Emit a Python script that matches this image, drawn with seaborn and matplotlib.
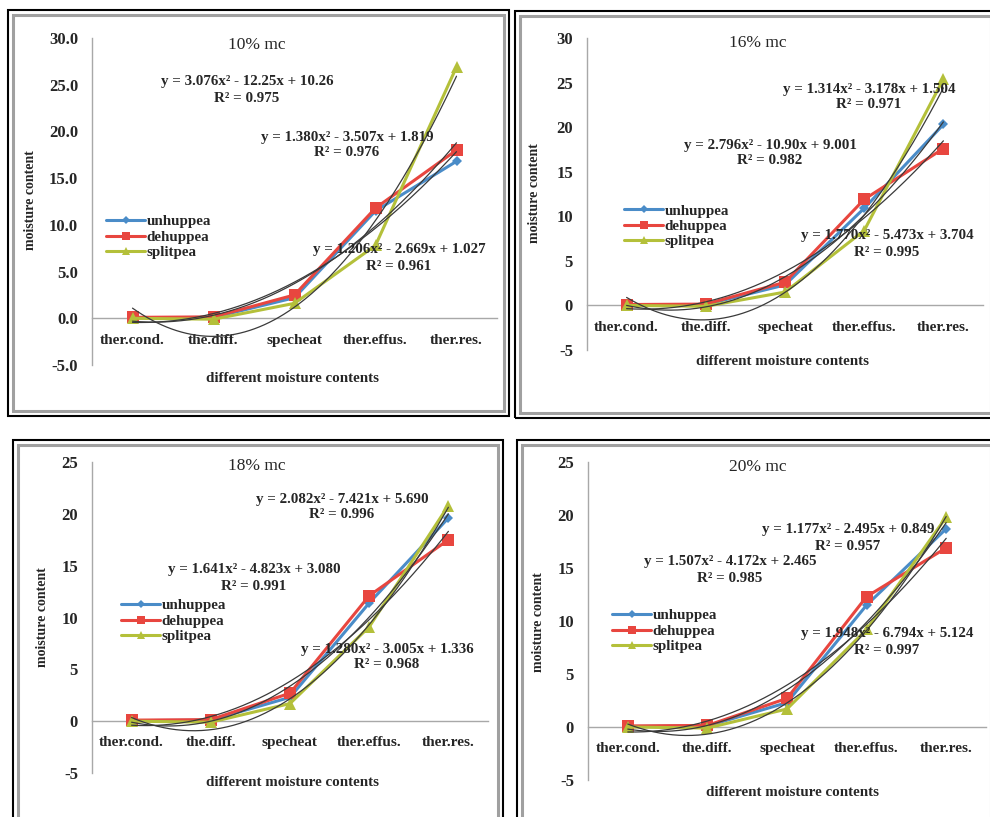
import numpy as np
import pandas as pd
import matplotlib
matplotlib.use("Agg")
import matplotlib.pyplot as plt
from matplotlib.patches import Rectangle
from matplotlib.ticker import FormatStrFormatter, FixedLocator, NullFormatter
import seaborn as sns

# ---------------- data ----------------
categories = ["ther.cond.", "the.diff.", "specheat", "ther.effus.", "ther.res."]
varieties = ["unhuppea", "dehuppea", "splitpea"]
panel_titles = ["10% mc", "16% mc", "18% mc", "20% mc"]

unhuppea = [
    [0.05, 0.1, 2.2, 11.5, 16.8],
    [0.05, 0.1, 2.3, 10.9, 20.3],
    [0.05, 0.1, 2.3, 11.4, 19.6],
    [0.05, 0.1, 2.3, 11.5, 18.7],
]
dehuppea = [
    [0.1, 0.15, 2.5, 11.8, 18.0],
    [0.1, 0.15, 2.6, 11.9, 17.6],
    [0.1, 0.15, 2.7, 12.1, 17.5],
    [0.1, 0.15, 2.7, 12.3, 16.9],
]
splitpea = [
    [0.0, -0.1, 1.6, 7.8, 26.9],
    [0.0, -0.1, 1.5, 8.4, 25.4],
    [0.0, -0.1, 1.7, 9.1, 20.8],
    [0.0, -0.1, 1.7, 9.2, 19.8],
]

# quadratic trend lines per panel: (a, b, c, R²) for y = a x² - b x + c
trend_fits = [
    [("3.076", "12.25", "10.26", "0.975"),
     ("1.380", "3.507", "1.819", "0.976"),
     ("1.206", "2.669", "1.027", "0.961")],
    [("1.314", "3.178", "1.504", "0.971"),
     ("2.796", "10.90", "9.001", "0.982"),
     ("1.770", "5.473", "3.704", "0.995")],
    [("2.082", "7.421", "5.690", "0.996"),
     ("1.641", "4.823", "3.080", "0.991"),
     ("1.280", "3.005", "1.336", "0.968")],
    [("1.177", "2.495", "0.849", "0.957"),
     ("1.507", "4.172", "2.465", "0.985"),
     ("1.948", "6.794", "5.124", "0.997")],
]

y_limits = [(-5, 30), (-5, 30), (-5, 25), (-5, 25)]
y_formats = ["%.1f", "%d", "%d", "%d"]

# ---------------- layout (pixels) ----------------
W, H = 990, 817
# frame boxes: left, top, right, bottom
frames = [(8, 10, 509, 416), (515, 11, 996, 418), (13, 440, 503, 830), (517, 440, 996, 830)]
# plot areas: x of y-axis, x of right end, y of top limit, y of bottom limit
areas = [(92, 497, 38, 365), (587, 983, 38, 350), (92, 488, 462, 773), (588, 986, 462, 780)]
title_pos = [(257, 45), (758, 43), (257, 466), (758, 467)]
ylabel_pos = [(31, 200), (535, 193), (43, 617), (538, 622)]
xlabel_pos = [(293, 378), (783, 362), (292, 783), (792, 792)]
legend_pos = [(106, 215), (624, 204), (121, 599), (612, 609)]
eq_pos = [
    [(247, 90), (347, 145), (399, 258)],
    [(869, 97), (770, 153), (887, 244)],
    [(342, 507), (254, 578), (387, 657)],
    [(848, 538), (730, 570), (887, 642)],
]

colors = {"unhuppea": "#4A8CC8", "dehuppea": "#E8463F", "splitpea": "#B4C03A"}
markers = {"unhuppea": "D", "dehuppea": "s", "splitpea": "^"}
msizes = {"unhuppea": 5, "dehuppea": 8, "splitpea": 8.5}
axis_gray = "#A8A8A8"

sns.set_theme(style="white")
plt.rcParams["font.family"] = ["Liberation Serif", "DejaVu Serif"]

fig = plt.figure(figsize=(W / 100, H / 100), dpi=100)
fig.patch.set_facecolor("white")


def fx(px):
    return px / W


def fy(py):
    return 1 - py / H


positions = np.arange(1, len(categories) + 1)

for i in range(4):
    # double frame around the panel
    L, T, R, B = frames[i]
    fig.patches.append(Rectangle((fx(L), fy(B)), (R - L) / W, (B - T) / H,
                                 transform=fig.transFigure, fill=False,
                                 edgecolor="black", linewidth=1.5, zorder=0))
    fig.patches.append(Rectangle((fx(L + 5), fy(B - 5)), (R - L - 10) / W, (B - T - 10) / H,
                                 transform=fig.transFigure, fill=False,
                                 edgecolor="#A0A0A0", linewidth=2.2, zorder=0))

    xl, xr, yt, yb = areas[i]
    ax = fig.add_axes([fx(xl), fy(yb), (xr - xl) / W, (yb - yt) / H])
    ax.set_facecolor("none")

    df = pd.DataFrame({
        "pos": np.tile(positions, 3),
        "value": np.concatenate([unhuppea[i], dehuppea[i], splitpea[i]]),
        "variety": np.repeat(varieties, len(categories)),
    })
    for v in varieties:
        sub = df[df["variety"] == v]
        sns.lineplot(data=sub, x="pos", y="value", ax=ax, color=colors[v],
                     marker=markers[v], markersize=msizes[v], markeredgewidth=0,
                     linewidth=2.2, label=v, zorder=3)

    # polynomial trend lines
    xs = np.linspace(positions[0], positions[-1], 200)
    for (a, b, c, r2), (ex, ey) in zip(trend_fits[i], eq_pos[i]):
        ys = float(a) * xs ** 2 - float(b) * xs + float(c)
        sns.lineplot(x=xs, y=ys, ax=ax, color="#3A3A3A", linewidth=0.9, zorder=4)
        fig.text(fx(ex), fy(ey),
                 f"y = {a}x² - {b}x + {c}\nR² = {r2}",
                 ha="center", va="center", ma="center", fontsize=10.8,
                 fontweight="bold", linespacing=1.3, zorder=6)

    ax.set_xlim(0.5, len(categories) + 0.5)
    ax.set_ylim(*y_limits[i])
    ax.set_xlabel("")
    ax.set_ylabel("")

    for s in ["top", "right"]:
        ax.spines[s].set_visible(False)
    ax.spines["left"].set_color(axis_gray)
    ax.spines["left"].set_linewidth(1.0)
    ax.spines["bottom"].set_position(("data", 0))
    ax.spines["bottom"].set_color(axis_gray)
    ax.spines["bottom"].set_linewidth(1.0)

    ax.yaxis.set_major_locator(FixedLocator(np.arange(y_limits[i][0], y_limits[i][1] + 1, 5)))
    ax.yaxis.set_major_formatter(FormatStrFormatter(y_formats[i]))
    ax.tick_params(axis="y", which="major", direction="out", length=4, width=1,
                   color=axis_gray, pad=6, labelsize=12)
    for lbl in ax.get_yticklabels():
        lbl.set_fontweight("bold")

    # boundary ticks between categories, category names under the zero line
    ax.xaxis.set_major_locator(FixedLocator(np.arange(1.5, len(categories) + 0.6, 1)))
    ax.xaxis.set_major_formatter(NullFormatter())
    ax.xaxis.set_minor_locator(FixedLocator(positions))
    ax.set_xticklabels(categories, minor=True)
    ax.tick_params(axis="x", which="major", direction="out", length=4, width=1, color=axis_gray)
    ax.tick_params(axis="x", which="minor", length=0, pad=11, labelsize=11)
    for lbl in ax.get_xticklabels(minor=True):
        lbl.set_fontweight("bold")

    leg = ax.legend(loc="upper left", bbox_to_anchor=(fx(legend_pos[i][0]), fy(legend_pos[i][1])),
                    bbox_transform=fig.transFigure, frameon=False, fontsize=10.8,
                    handlelength=2.6, handletextpad=0.1, labelspacing=0.12,
                    borderpad=0, borderaxespad=0, markerscale=0.75)
    for t in leg.get_texts():
        t.set_fontweight("bold")

    fig.text(fx(title_pos[i][0]), fy(title_pos[i][1]), panel_titles[i],
             ha="center", va="center", fontsize=12.5)
    fig.text(fx(ylabel_pos[i][0]), fy(ylabel_pos[i][1]), "moisture content",
             ha="center", va="center", rotation=90, fontsize=10, fontweight="bold")
    fig.text(fx(xlabel_pos[i][0]), fy(xlabel_pos[i][1]), "different moisture contents",
             ha="center", va="center", fontsize=10.8, fontweight="bold")

fig.savefig("out.png", dpi=100, facecolor="white")
